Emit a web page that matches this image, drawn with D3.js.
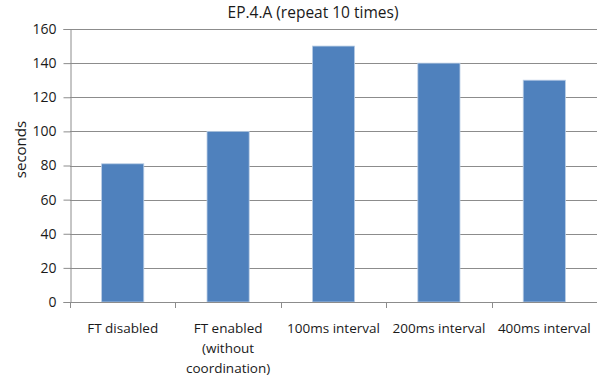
<!DOCTYPE html>
<html>
<head>
<meta charset="utf-8">
<script src="https://cdn.jsdelivr.net/npm/d3@7"></script>
<style>
  body { margin: 0; background: #fff; }
  text { font-family: "Open Sans", "DejaVu Sans", sans-serif; fill: #1a1a1a; }
</style>
</head>
<body>
<svg id="chart" width="597" height="381"></svg>
<script>
const categories = ["FT disabled", "FT enabled\n(without\ncoordination)", "100ms interval", "200ms interval", "400ms interval"];
const seconds = [81, 100, 150, 140, 130];
const yTicks = [0, 20, 40, 60, 80, 100, 120, 140, 160];

const svg = d3.select("#chart");
const margin = { left: 70, right: 0, top: 29, bottom: 79 };
const W = 597, H = 381;

const x = d3.scaleBand()
  .domain(categories)
  .range([margin.left, W - margin.right])
  .paddingInner(0.6)
  .paddingOuter(0.3);

const y = d3.scaleLinear()
  .domain([0, 160])
  .range([H - margin.bottom, margin.top]);

// horizontal grid lines
svg.append("g")
  .selectAll("line")
  .data(yTicks.filter(d => d > 0))
  .join("line")
  .attr("x1", margin.left)
  .attr("x2", W - margin.right)
  .attr("y1", d => Math.round(y(d)) + 0.5)
  .attr("y2", d => Math.round(y(d)) + 0.5)
  .attr("stroke", "#8c8c8c")
  .attr("stroke-width", 1);

// bars
svg.append("g")
  .selectAll("rect")
  .data(seconds)
  .join("rect")
  .attr("x", (d, i) => x(categories[i]))
  .attr("width", x.bandwidth())
  .attr("y", d => y(d))
  .attr("height", d => y(0) - y(d))
  .attr("fill", "#4f81bd")
  .attr("stroke", "#b9cde5")
  .attr("stroke-width", 0.8);

// y axis
const yAxis = d3.axisLeft(y).tickValues(yTicks).tickSize(7).tickPadding(7);
const gy = svg.append("g")
  .attr("transform", `translate(${margin.left + 0.5},0)`)
  .call(yAxis);
gy.select(".domain").attr("stroke", "#8c8c8c");
gy.selectAll(".tick line").attr("stroke", "#8c8c8c");
gy.selectAll(".tick text").style("font-size", "14px").attr("fill", "#1a1a1a");

// x axis: ticks at band boundaries
const step = x.step();
const boundaries = d3.range(categories.length + 1).map(i => x(categories[0]) - x.paddingOuter() * step + i * step);
const gx = svg.append("g");
gx.append("line")
  .attr("x1", margin.left).attr("x2", W - margin.right)
  .attr("y1", Math.round(y(0)) + 0.5).attr("y2", Math.round(y(0)) + 0.5)
  .attr("stroke", "#8c8c8c");
gx.selectAll("line.tk")
  .data(boundaries)
  .join("line")
  .attr("class", "tk")
  .attr("x1", d => Math.round(d) + 0.5).attr("x2", d => Math.round(d) + 0.5)
  .attr("y1", Math.round(y(0))).attr("y2", Math.round(y(0)) + 6)
  .attr("stroke", "#8c8c8c");

// category labels
const lbl = svg.append("g")
  .selectAll("text")
  .data(categories)
  .join("text")
  .attr("text-anchor", "middle")
  .style("font-size", "13.5px")
  .attr("transform", d => `translate(${x(d) + x.bandwidth() / 2},${y(0) + 31})`);
lbl.selectAll("tspan")
  .data(d => d.split("\n"))
  .join("tspan")
  .attr("x", 0)
  .attr("dy", (d, i) => i === 0 ? 0 : 20)
  .text(d => d);

// title
svg.append("text")
  .attr("x", 313).attr("y", 18)
  .attr("text-anchor", "middle")
  .style("font-size", "15.5px")
  .text("EP.4.A (repeat 10 times)");

// y axis title
svg.append("text")
  .attr("transform", `translate(26,${(y(0) + y(160)) / 2 - 16}) rotate(-90)`)
  .attr("text-anchor", "middle")
  .style("font-size", "15px")
  .text("seconds");
</script>
</body>
</html>
